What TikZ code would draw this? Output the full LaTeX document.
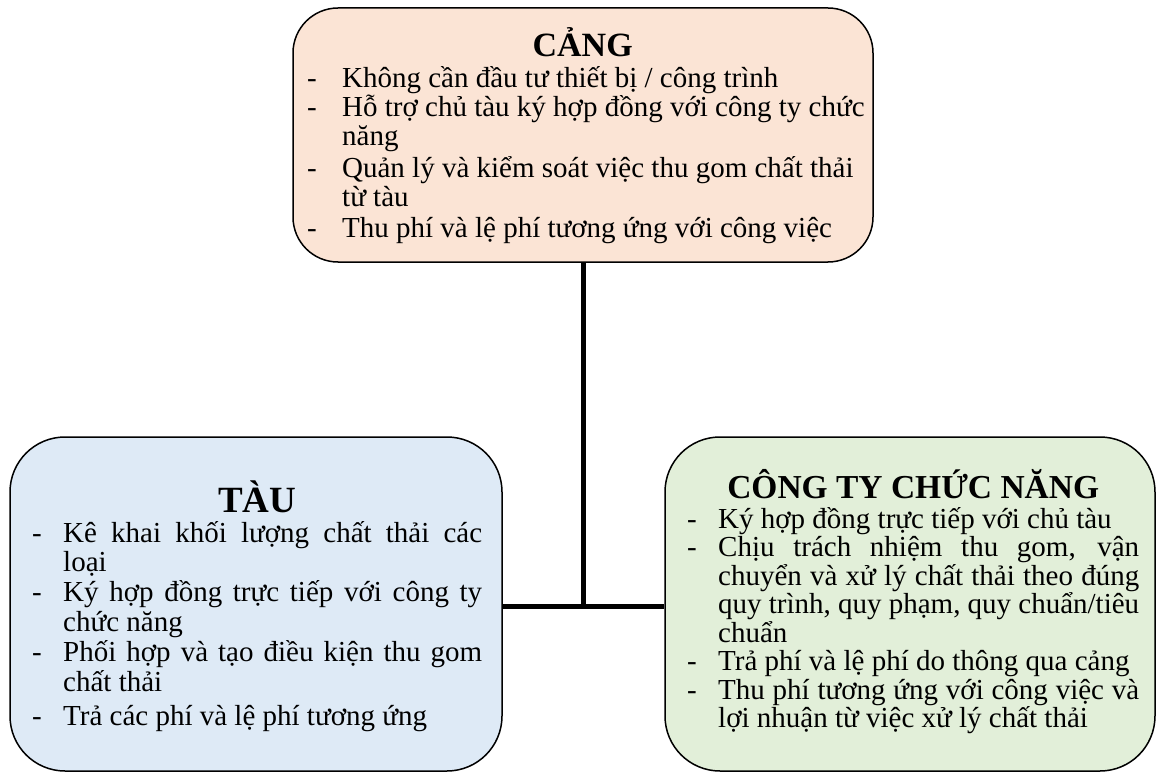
\documentclass[tikz,border=0pt]{standalone}
\usepackage{fontspec}
\setmainfont{Liberation Serif}
\definecolor{cangfill}{HTML}{FBE4D5}
\definecolor{taufill}{HTML}{DEEAF6}
\definecolor{ctyfill}{HTML}{E2EFD9}
\newlength\dashw
\newcommand\bodyfont[1]{\fontsize{29}{#1}\selectfont}
\newcommand\titlefont[1]{\fontsize{#1}{#1}\selectfont\bfseries}
\newcommand\Fl[1]{\noindent\makebox[\dashw][l]{-}\mbox{#1}\par}
\newcommand\Fj[2]{\noindent\makebox[\dashw][l]{-}\makebox[#1][s]{#2}\par}
\newcommand\Cl[1]{\noindent\hspace*{\dashw}\mbox{#1}\par}
\newcommand\Cj[2]{\noindent\hspace*{\dashw}\makebox[#1][s]{#2}\par}
\tikzset{
  box/.style={draw=black, line width=1.5pt, inner sep=0pt},
  txt/.style={inner sep=0pt, anchor=base west, text=black},
  conn/.style={draw=black, line width=5pt}
}
\begin{document}
\begin{tikzpicture}[x=1pt,y=-1pt]
\useasboundingbox (0,0) rectangle (1160,773);
% boxes
\node[box, fill=cangfill, rounded corners=45pt, minimum width=580pt, minimum height=254pt] (cang) at (583,135) {};
\node[box, fill=taufill, rounded corners=55pt, minimum width=492pt, minimum height=334pt] (tau) at (256,604) {};
\node[box, fill=ctyfill, rounded corners=55pt, minimum width=490pt, minimum height=334pt] (cty) at (910,604) {};
% connectors
\coordinate (j) at (583,606);
\draw[conn] (cang.south) -- (j);
\draw[conn] (j -| tau.east) -- (j -| cty.west);
% texts
\node[txt] (cangT) at (307,57) {\begin{minipage}[t]{551pt}%
\setlength\dashw{35pt}\lineskiplimit=-100pt\lineskip=0pt\parskip=0pt
{\centering\titlefont{34}CẢNG\par}
\bodyfont{29}\vspace{2pt}
\Fl{Không cần đầu tư thiết bị / công trình}
\Fl{Hỗ trợ chủ tàu ký hợp đồng với công ty chức}
\Cl{năng}
\vspace{3pt}
\Fl{Quản lý và kiểm soát việc thu gom chất thải}
\Cl{từ tàu}
\vspace{2pt}
\Fl{Thu phí và lệ phí tương ứng với công việc}
\end{minipage}};
\node[txt] (tauT) at (32,512) {\begin{minipage}[t]{450pt}%
\setlength\dashw{31pt}\lineskiplimit=-100pt\lineskip=0pt\parskip=0pt
{\centering\titlefont{37}TÀU\par}
\bodyfont{29.8}\vspace{0.2pt}
\Fj{419pt}{Kê khai khối lượng chất thải các}
\Cl{loại}
\Fj{419pt}{Ký hợp đồng trực tiếp với công ty}
\Cl{chức năng}
\Fj{419pt}{Phối hợp và tạo điều kiện thu gom}
\Cl{chất thải}
\vspace{5pt}
\Fl{Trả các phí và lệ phí tương ứng}
\end{minipage}};
\node[txt] (ctyT) at (687,498) {\begin{minipage}[t]{452pt}%
\setlength\dashw{31pt}\lineskiplimit=-100pt\lineskip=0pt\parskip=0pt
{\centering\titlefont{33.5}CÔNG TY CHỨC NĂNG\par}
\bodyfont{28.5}\vspace{1.5pt}
\Fl{Ký hợp đồng trực tiếp với chủ tàu}
\Fj{421pt}{Chịu trách nhiệm thu gom, vận}
\Cj{421pt}{chuyển và xử lý chất thải theo đúng}
\Cj{421pt}{quy trình, quy phạm, quy chuẩn/tiêu}
\Cl{chuẩn}
\Fl{Trả phí và lệ phí do thông qua cảng}
\Fj{421pt}{Thu phí tương ứng với công việc và}
\Cl{lợi nhuận từ việc xử lý chất thải}
\end{minipage}};
\end{tikzpicture}
\end{document}
